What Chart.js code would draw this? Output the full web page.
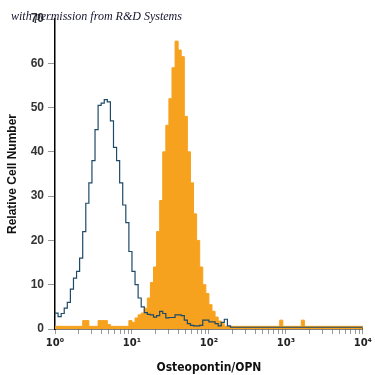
<!DOCTYPE html>
<html><head><meta charset="utf-8">
<script src="https://cdn.jsdelivr.net/npm/chart.js@4"></script>
<style>html,body{margin:0;padding:0;background:#fff}#wrap{width:375px;height:375px;position:relative}</style>
</head><body><div id="wrap"><canvas id="c"></canvas></div>
<script>
// Histogram bins: 25 bins per decade from 10^0 to 10^4 (100 bins)
const binsPerDecade = 25;
const isotypeCounts = [
  3.6, 2.8, 3.5, 4.7, 6, 9, 11.5, 13, 16, 22,
  28.4, 33, 38, 45, 50.5, 51, 51.8, 51.3, 47, 41,
  38, 33, 28, 24, 17.5, 13, 10, 7, 5, 3.7,
  3.3, 3.2, 2.7, 3, 4, 3.5, 2.5, 2.6, 2.6, 3.2,
  3.2, 3, 2, 1.2, 0.8, 0.7, 0.7, 0.8, 2, 2,
  1.6, 1.6, 1.2, 0.7, 1.5, 2.2, 0.7, 0.4, 0.4, 0.4,
  0.4, 0.4, 0.4, 0.4, 0.4, 0.4, 0.4, 0.4, 0.4, 0.4,
  0.4, 0.4, 0.4, 0.4, 0.4, 0.4, 0.4, 0.4, 0.4, 0.4,
  0.4, 0.4, 0.4, 0.4, 0.4, 0.4, 0.4, 0.4, 0.4, 0.4,
  0.4, 0.4, 0.4, 0.4, 0.4, 0.4, 0.4, 0.4, 0.4, 0.4
];
const opnCounts = [
  0.6, 0.6, 0.6, 0.6, 0.6, 0.6, 0.6, 0.6, 0.6, 1.9,
  1.9, 0.6, 0.6, 0.6, 1.9, 1.9, 1.9, 1.0, 0.6, 0.6,
  0.6, 0.6, 0.6, 0.6, 1.9, 1.5, 2.5, 3.2, 3.6, 4.7,
  7, 10.5, 14, 22, 29, 40, 46, 52, 59, 65,
  63, 61.5, 48, 40, 33, 26, 20, 14, 10, 8,
  5.5, 4, 2.7, 1.8, 1.2, 0.6, 0.6, 0.6, 0.6, 0.6,
  0.6, 0.6, 0.6, 0.6, 0.6, 0.6, 0.6, 0.6, 0.6, 0.6,
  0.6, 0.6, 0.6, 2, 0.6, 0.6, 0.6, 0.6, 0.6, 0.6,
  2, 0.6, 0.6, 0.6, 0.6, 0.6, 0.6, 0.6, 0.6, 0.6,
  0.6, 0.6, 0.6, 0.6, 0.6, 0.6, 0.6, 0.6, 0.6, 0.6
];
const xTickLabels = {1: '10\u2070', 10: '10\u00b9', 100: '10\u00b2', 1000: '10\u00b3', 10000: '10\u2074'};
const yMax = 70;
const yStep = 10;
const xTitle = 'Osteopontin/OPN';
const yTitle = 'Relative Cell Number';
const watermark = 'with permission from R&D Systems';

function toPoints(counts) {
  const pts = counts.map((v, i) => ({x: Math.pow(10, i / binsPerDecade), y: v}));
  pts.push({x: 10000, y: counts[counts.length - 1]});
  return pts;
}
const xTickValues = [];
for (let d = 0; d < 4; d++) for (let m = 1; m <= 9; m++) xTickValues.push(m * Math.pow(10, d));
xTickValues.push(10000);

const watermarkPlugin = {
  id: 'wm',
  afterDraw(chart) {
    const ctx = chart.ctx;
    ctx.save();
    ctx.font = 'italic 12px "Liberation Serif", serif';
    ctx.fillStyle = '#14142e';
    ctx.textBaseline = 'alphabetic';
    ctx.fillText(watermark, 11, 20);
    ctx.restore();
  }
};

new Chart(document.getElementById('c'), {
  type: 'line',
  data: {
    datasets: [
      {
        label: 'Isotype', data: toPoints(isotypeCounts), stepped: 'before',
        borderColor: '#1d4a68', borderWidth: 1.2, fill: false, pointRadius: 0, order: 0
      },
      {
        label: 'OPN', data: toPoints(opnCounts), stepped: 'before',
        borderColor: '#f7a21e', backgroundColor: '#f7a21e', borderWidth: 1, fill: 'origin', pointRadius: 0, order: 1
      }
    ]
  },
  options: {
    responsive: true, maintainAspectRatio: false, animation: false,
    layout: {padding: {top: 19, right: 7, left: 0, bottom: 0}},
    plugins: {legend: {display: false}, tooltip: {enabled: false}},
    scales: {
      x: {
        type: 'logarithmic', min: 1, max: 10000, position: 'bottom',
        afterBuildTicks: (s) => { s.ticks = xTickValues.map(v => ({value: v})); },
        afterFit: (s) => { s.height = 46; },
        ticks: {
          autoSkip: false, maxRotation: 0, minRotation: 0, padding: 3,
          color: '#222', font: {family: '"DejaVu Sans"', weight: 'bold', size: 10},
          callback: (v) => xTickLabels[v] || ''
        },
        grid: {display: true, drawOnChartArea: false, drawTicks: true, tickLength: 5, tickColor: '#9a9a9a', tickWidth: 1},
        border: {display: true, color: '#000', width: 1.5},
        title: {display: true, text: xTitle, color: '#111', padding: {top: 3, bottom: 0},
          font: {family: '"DejaVu Sans Condensed", "DejaVu Sans", sans-serif', weight: 'bold', size: 12}}
      },
      y: {
        min: 0, max: yMax,
        afterFit: (s) => { s.width = 55; },
        ticks: {stepSize: yStep, padding: 4, color: '#333',
          font: {family: '"Liberation Sans", Arial, sans-serif', weight: 'bold', size: 12}},
        grid: {display: true, drawOnChartArea: false, drawTicks: true, tickLength: 7, tickColor: '#9a9a9a'},
        border: {display: true, color: '#000', width: 1.5},
        title: {display: true, text: yTitle, color: '#111', padding: {top: 5, bottom: 0},
          font: {family: '"Liberation Sans", Arial, sans-serif', weight: 'bold', size: 12}}
      }
    }
  },
  plugins: [watermarkPlugin]
});
</script>
</body></html>
